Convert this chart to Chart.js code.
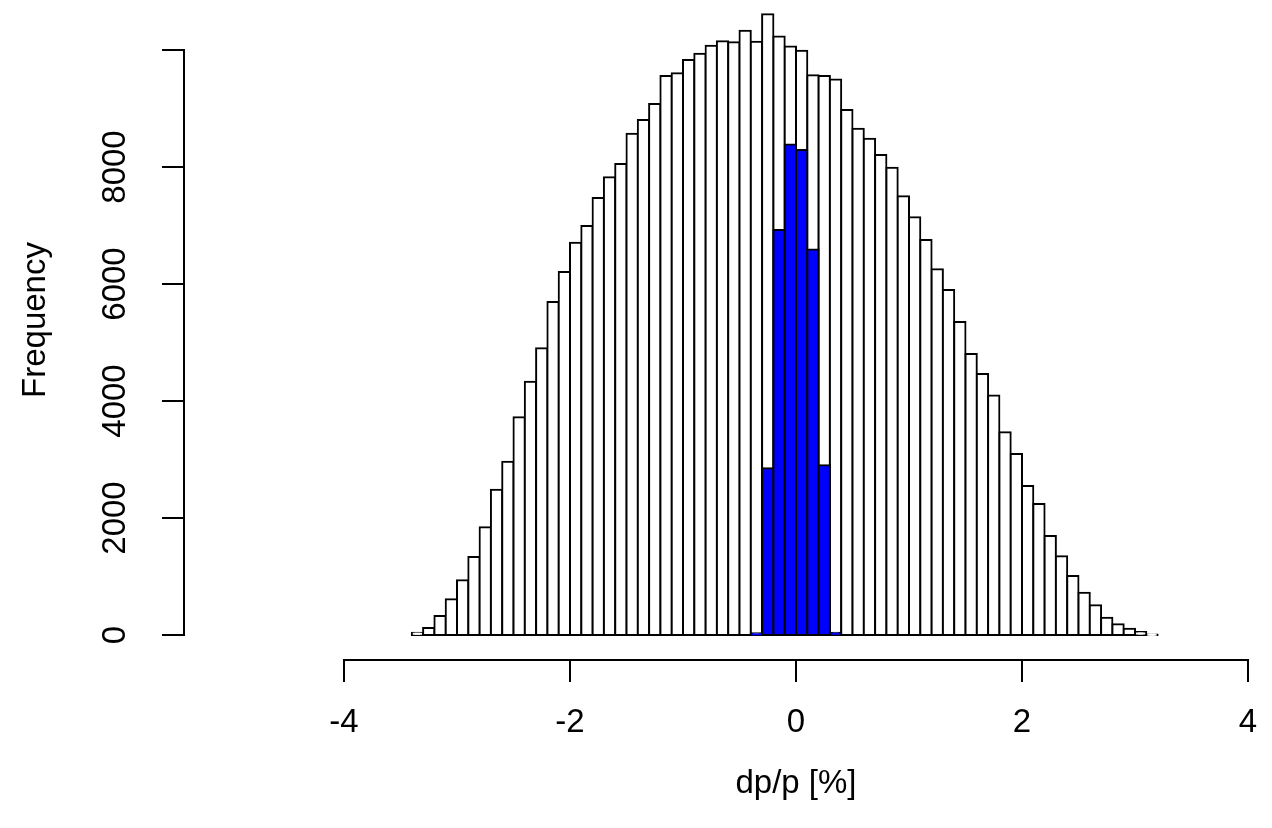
<!DOCTYPE html>
<html>
<head>
<meta charset="utf-8">
<script src="https://cdn.jsdelivr.net/npm/chart.js@4.4.0/dist/chart.umd.min.js"></script>
<style>
  html, body { margin: 0; padding: 0; background: #fff; }
  #wrap { width: 1272px; height: 828px; }
</style>
</head>
<body>
<div id="wrap"><canvas id="chart" width="1272" height="828"></canvas></div>
<script>
// bin centres (bins 0.1 wide, -3.4 .. 3.2)
const binMids = [
  -3.35, -3.25, -3.15, -3.05, -2.95, -2.85, -2.75, -2.65, -2.55, -2.45,
  -2.35, -2.25, -2.15, -2.05, -1.95, -1.85, -1.75, -1.65, -1.55, -1.45,
  -1.35, -1.25, -1.15, -1.05, -0.95, -0.85, -0.75, -0.65, -0.55, -0.45,
  -0.35, -0.25, -0.15, -0.05, 0.05, 0.15, 0.25, 0.35, 0.45, 0.55,
  0.65, 0.75, 0.85, 0.95, 1.05, 1.15, 1.25, 1.35, 1.45, 1.55,
  1.65, 1.75, 1.85, 1.95, 2.05, 2.15, 2.25, 2.35, 2.45, 2.55,
  2.65, 2.75, 2.85, 2.95, 3.05, 3.15
];
// all particles
const allCounts = [
  40, 120, 325, 610, 935, 1333, 1840, 2484, 2963, 3721,
  4330, 4900, 5692, 6205, 6706, 6991, 7470, 7824, 8050, 8570,
  8803, 9077, 9556, 9601, 9829, 9937, 10074, 10148, 10131, 10330,
  10140, 10610, 10229, 10060, 9988, 9569, 9555, 9497, 8974, 8655,
  8484, 8205, 7988, 7500, 7140, 6752, 6251, 5897, 5350, 4803,
  4462, 4095, 3465, 3094, 2547, 2239, 1692, 1345, 1008, 723,
  507, 296, 182, 108, 51, 10
];
// selected particles (blue)
const selMids = [-0.35, -0.25, -0.15, -0.05, 0.05, 0.15, 0.25, 0.35];
const selCounts = [30, 2850, 6925, 8385, 8290, 6590, 2900, 40];

const xTicks = [-4, -2, 0, 2, 4];
const yTicks = [0, 2000, 4000, 6000, 8000, 10000];
const yTickLabels = ['0', '2000', '4000', '6000', '8000', ''];
const xTitle = 'dp/p [%]';
const yTitle = 'Frequency';

const font = '33px "Liberation Sans", Arial, sans-serif';

// R style axes: lines only over the tick range, ticks outwards
const rAxes = {
  id: 'rAxes',
  afterDraw(chart) {
    const ctx = chart.ctx;
    const sx = chart.scales.x;
    const sy = chart.scales.y;
    const axisY = chart.chartArea.bottom + 1;
    const axisX = chart.chartArea.left;
    ctx.save();
    ctx.strokeStyle = '#000';
    ctx.lineWidth = 2;
    ctx.lineCap = 'square';
    ctx.beginPath();
    ctx.moveTo(sx.getPixelForValue(xTicks[0]), axisY);
    ctx.lineTo(sx.getPixelForValue(xTicks[xTicks.length - 1]), axisY);
    xTicks.forEach(t => {
      const px = sx.getPixelForValue(t);
      ctx.moveTo(px, axisY);
      ctx.lineTo(px, axisY + 21);
    });
    ctx.moveTo(axisX, sy.getPixelForValue(yTicks[0]));
    ctx.lineTo(axisX, sy.getPixelForValue(yTicks[yTicks.length - 1]));
    yTicks.forEach(t => {
      const py = sy.getPixelForValue(t);
      ctx.moveTo(axisX, py);
      ctx.lineTo(axisX - 21, py);
    });
    ctx.stroke();

    ctx.fillStyle = '#000';
    ctx.font = font;
    ctx.textAlign = 'center';
    ctx.textBaseline = 'middle';
    xTicks.forEach(t => ctx.fillText(String(t), sx.getPixelForValue(t), 723));
    yTicks.forEach((t, i) => {
      ctx.save();
      ctx.translate(116, sy.getPixelForValue(t));
      ctx.rotate(-Math.PI / 2);
      ctx.fillText(yTickLabels[i], 0, 0);
      ctx.restore();
    });
    // titles
    ctx.fillText(xTitle, sx.getPixelForValue(0), 784);
    ctx.save();
    ctx.translate(36, 320);
    ctx.rotate(-Math.PI / 2);
    ctx.fillText(yTitle, 0, 0);
    ctx.restore();
    ctx.restore();
  }
};

const barStyle = {
  borderColor: '#000000',
  borderWidth: 2,
  borderSkipped: false,
  inflateAmount: 1,
  barPercentage: 1,
  categoryPercentage: 1,
  grouped: false
};

const data = {
  datasets: [
    Object.assign({
      label: 'selected',
      data: selMids.map((x, i) => ({ x: x, y: selCounts[i] })),
      backgroundColor: '#0000ff',
      order: 0
    }, barStyle),
    Object.assign({
      label: 'all',
      data: binMids.map((x, i) => ({ x: x, y: allCounts[i] })),
      backgroundColor: '#ffffff',
      order: 1
    }, barStyle)
  ]
};

const config = {
  type: 'bar',
  data: data,
  options: {
    responsive: false,
    animation: false,
    layout: { padding: { left: 184, right: 10, top: 3, bottom: 169 } },
    scales: {
      x: { type: 'linear', display: false, offset: false, min: -5.416, max: 4.124 },
      y: { display: false, min: -410, max: 10803 }
    },
    plugins: {
      legend: { display: false },
      tooltip: { enabled: false }
    }
  },
  plugins: [rAxes]
};

const canvas = document.getElementById('chart').getContext('2d');
let chart = new Chart(canvas, config);
</script>
</body>
</html>
